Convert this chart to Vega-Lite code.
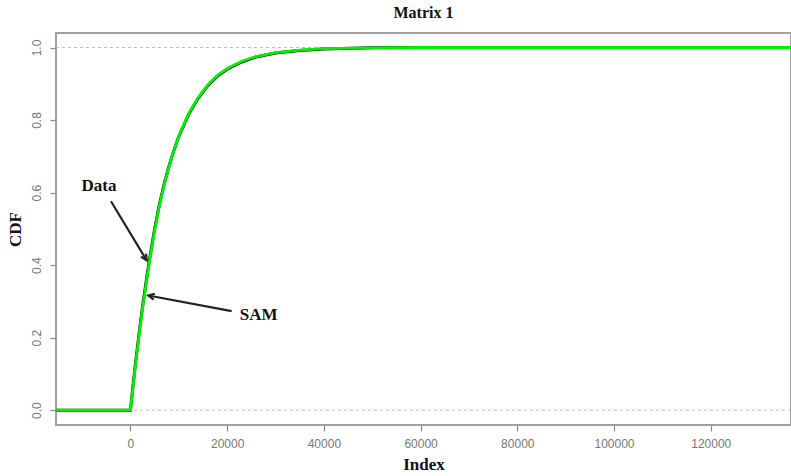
{
  "$schema": "https://vega.github.io/schema/vega-lite/v6.json",
  "width": 735,
  "height": 392,
  "autosize": {"type": "none"},
  "padding": {"left": 56, "top": 33, "right": 0, "bottom": 51},
  "background": "white",
  "title": {"text": "Matrix 1", "font": "Liberation Serif", "fontSize": 16, "fontWeight": "bold", "color": "#111", "offset": 12, "anchor": "middle"},
  "config": {
    "view": {"stroke": "#a0a0a0", "strokeWidth": 2},
    "axis": {"domain": false, "grid": false, "tickColor": "#888", "tickSize": 6, "tickWidth": 1.2, "labelFont": "Liberation Sans", "labelFontSize": 12, "labelColor": "#777", "titleFont": "Liberation Serif", "titleFontSize": 17, "titleFontWeight": "bold", "titleColor": "#111"}
  },
  "datasets": {
    "curves": [
      {"series": "Data", "index": -15400, "cdf": 0},
      {"series": "Data", "index": 0, "cdf": 0},
      {"series": "Data", "index": 500, "cdf": 0.065},
      {"series": "Data", "index": 1000, "cdf": 0.125},
      {"series": "Data", "index": 1500, "cdf": 0.18},
      {"series": "Data", "index": 2000, "cdf": 0.235},
      {"series": "Data", "index": 2500, "cdf": 0.285},
      {"series": "Data", "index": 3000, "cdf": 0.332},
      {"series": "Data", "index": 3500, "cdf": 0.378},
      {"series": "Data", "index": 4000, "cdf": 0.42},
      {"series": "Data", "index": 5000, "cdf": 0.5},
      {"series": "Data", "index": 6000, "cdf": 0.568},
      {"series": "Data", "index": 7000, "cdf": 0.625},
      {"series": "Data", "index": 8000, "cdf": 0.674},
      {"series": "Data", "index": 9000, "cdf": 0.717},
      {"series": "Data", "index": 10000, "cdf": 0.755},
      {"series": "Data", "index": 12000, "cdf": 0.815},
      {"series": "Data", "index": 14000, "cdf": 0.86},
      {"series": "Data", "index": 16000, "cdf": 0.895},
      {"series": "Data", "index": 18000, "cdf": 0.921},
      {"series": "Data", "index": 20000, "cdf": 0.94},
      {"series": "Data", "index": 23000, "cdf": 0.96},
      {"series": "Data", "index": 26000, "cdf": 0.974},
      {"series": "Data", "index": 30000, "cdf": 0.985},
      {"series": "Data", "index": 35000, "cdf": 0.992},
      {"series": "Data", "index": 40000, "cdf": 0.996},
      {"series": "Data", "index": 50000, "cdf": 0.999},
      {"series": "Data", "index": 60000, "cdf": 1.0},
      {"series": "Data", "index": 136600, "cdf": 1.0},
      {"series": "SAM", "index": -15400, "cdf": 0},
      {"series": "SAM", "index": 0, "cdf": 0},
      {"series": "SAM", "index": 500, "cdf": 0.06},
      {"series": "SAM", "index": 1000, "cdf": 0.12},
      {"series": "SAM", "index": 1500, "cdf": 0.175},
      {"series": "SAM", "index": 2000, "cdf": 0.23},
      {"series": "SAM", "index": 2500, "cdf": 0.28},
      {"series": "SAM", "index": 3000, "cdf": 0.326},
      {"series": "SAM", "index": 3500, "cdf": 0.372},
      {"series": "SAM", "index": 4000, "cdf": 0.415},
      {"series": "SAM", "index": 5000, "cdf": 0.496},
      {"series": "SAM", "index": 6000, "cdf": 0.565},
      {"series": "SAM", "index": 7000, "cdf": 0.623},
      {"series": "SAM", "index": 8000, "cdf": 0.673},
      {"series": "SAM", "index": 9000, "cdf": 0.717},
      {"series": "SAM", "index": 10000, "cdf": 0.756},
      {"series": "SAM", "index": 12000, "cdf": 0.817},
      {"series": "SAM", "index": 14000, "cdf": 0.862},
      {"series": "SAM", "index": 16000, "cdf": 0.897},
      {"series": "SAM", "index": 18000, "cdf": 0.923},
      {"series": "SAM", "index": 20000, "cdf": 0.942},
      {"series": "SAM", "index": 23000, "cdf": 0.962},
      {"series": "SAM", "index": 26000, "cdf": 0.975},
      {"series": "SAM", "index": 30000, "cdf": 0.986},
      {"series": "SAM", "index": 35000, "cdf": 0.993},
      {"series": "SAM", "index": 40000, "cdf": 0.997},
      {"series": "SAM", "index": 50000, "cdf": 0.999},
      {"series": "SAM", "index": 60000, "cdf": 1.0},
      {"series": "SAM", "index": 136600, "cdf": 1.0}
    ],
    "notes": [
      {"label": "Data", "tx": -6500, "ty": 0.617, "x1": -4030, "y1": 0.576, "x2": 3350, "y2": 0.413, "angle": 149},
      {"label": "SAM", "tx": 26500, "ty": 0.262, "x1": 20930, "y1": 0.273, "x2": 3680, "y2": 0.316, "angle": 281}
    ],
    "refs": [{"v": 0}, {"v": 1}]
  },
  "layer": [
    {
      "data": {"name": "refs"},
      "mark": {"type": "rule", "color": "#bdbdbd", "strokeWidth": 1, "strokeDash": [3, 3]},
      "encoding": {
        "y": {"field": "v", "type": "quantitative", "scale": {"domain": [-0.041, 1.04], "nice": false, "zero": false}, "axis": {"values": [0, 0.2, 0.4, 0.6, 0.8, 1.0], "format": ".1f", "labelAngle": -90, "labelAlign": "center", "labelBaseline": "bottom", "labelPadding": 7, "title": "CDF", "titlePadding": 6}}
      }
    },
    {
      "data": {"name": "curves"},
      "transform": [{"filter": "datum.series == 'Data'"}],
      "mark": {"type": "line", "color": "#111", "strokeWidth": 3, "clip": true},
      "encoding": {
        "x": {"field": "index", "type": "quantitative", "scale": {"domain": [-15400, 136600], "nice": false, "zero": false}, "axis": {"values": [0, 20000, 40000, 60000, 80000, 100000, 120000], "format": "d", "labelPadding": 7, "title": "Index", "titlePadding": 7}},
        "y": {"field": "cdf", "type": "quantitative"}
      }
    },
    {
      "data": {"name": "curves"},
      "transform": [{"filter": "datum.series == 'SAM'"}],
      "mark": {"type": "line", "color": "#00f000", "strokeWidth": 2.8, "clip": true},
      "encoding": {
        "x": {"field": "index", "type": "quantitative"},
        "y": {"field": "cdf", "type": "quantitative"}
      }
    },
    {
      "data": {"name": "notes"},
      "mark": {"type": "rule", "color": "#222", "strokeWidth": 2.2},
      "encoding": {
        "x": {"field": "x1", "type": "quantitative"},
        "y": {"field": "y1", "type": "quantitative"},
        "x2": {"field": "x2"},
        "y2": {"field": "y2"}
      }
    },
    {
      "data": {"name": "notes"},
      "mark": {"type": "point", "shape": "M -0.5 1 L 0 0 L 0.5 1", "filled": false, "stroke": "#222", "strokeWidth": 2.2, "size": 150, "opacity": 1},
      "encoding": {
        "x": {"field": "x2", "type": "quantitative"},
        "y": {"field": "y2", "type": "quantitative"},
        "angle": {"field": "angle", "type": "quantitative", "scale": null}
      }
    },
    {
      "data": {"name": "notes"},
      "mark": {"type": "text", "font": "Liberation Serif", "fontSize": 17, "fontWeight": "bold", "color": "#111", "align": "center", "baseline": "middle"},
      "encoding": {
        "x": {"field": "tx", "type": "quantitative"},
        "y": {"field": "ty", "type": "quantitative"},
        "text": {"field": "label"}
      }
    }
  ]
}
